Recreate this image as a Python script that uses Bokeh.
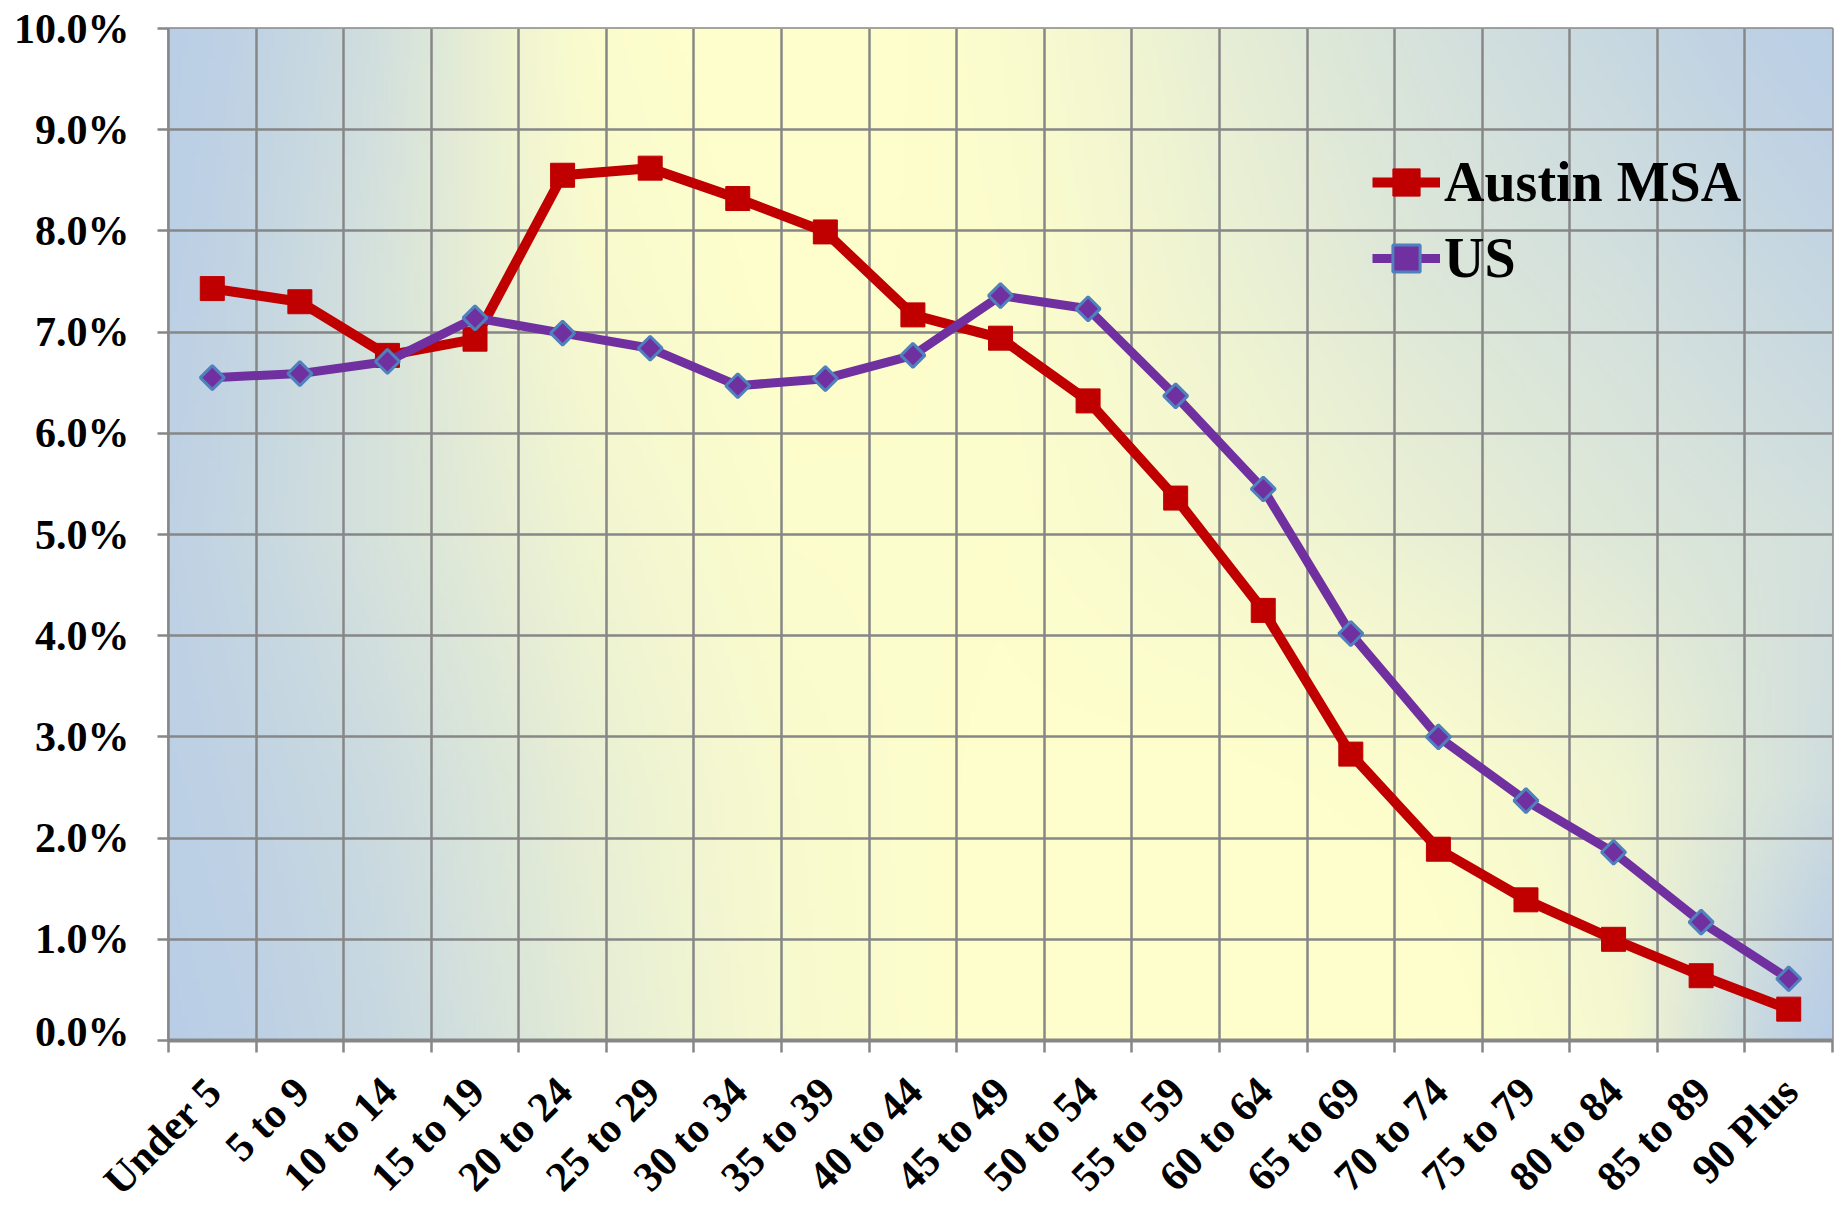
import math
import numpy as np
from bokeh.plotting import figure
from bokeh.models import (Range1d, FixedTicker, PrintfTickFormatter, Legend, LegendItem,
                          ColumnDataSource)
from bokeh.core.properties import value
from bokeh.embed import file_html
from bokeh.resources import INLINE

categories = ["Under 5", "5 to 9", "10 to 14", "15 to 19", "20 to 24", "25 to 29",
              "30 to 34", "35 to 39", "40 to 44", "45 to 49", "50 to 54", "55 to 59",
              "60 to 64", "65 to 69", "70 to 74", "75 to 79", "80 to 84", "85 to 89", "90 Plus"]
austin_msa = [7.43, 7.30, 6.77, 6.93, 8.55, 8.62, 8.32, 7.99, 7.17, 6.94, 6.32, 5.36,
              4.25, 2.83, 1.89, 1.39, 1.00, 0.64, 0.31]
us = [6.55, 6.59, 6.71, 7.14, 6.99, 6.84, 6.47, 6.54, 6.77, 7.36, 7.23, 6.37,
      5.45, 4.02, 3.00, 2.37, 1.86, 1.17, 0.61]
y_ticks = [0, 1, 2, 3, 4, 5, 6, 7, 8, 9, 10]

n = len(categories)
xs = [i + 0.5 for i in range(n)]
boundaries = list(range(n + 1))

FONT = "Liberation Serif"
GRID = "#878787"

W_FIG = 1840
LEFT, RIGHT, TOP = 168, 8, 28
MAIN_H = 1054
LAB_H = 1211 - MAIN_H

p = figure(width=W_FIG, height=MAIN_H, output_backend="svg", toolbar_location=None,
           x_range=Range1d(0, n), y_range=Range1d(0, 10),
           min_border_left=LEFT, min_border_right=RIGHT, min_border_top=TOP, min_border_bottom=14)
p.background_fill_color = "white"
p.border_fill_color = "white"
p.outline_line_color = GRID
p.outline_line_width = 2.5

# background gradient of the plot area (yellow weight control grid, top row first)
wgrid = np.array([
    [0.10, 0.40, 0.85, 1.00, 0.85, 0.62, 0.45, 0.30, 0.12],
    [0.15, 0.45, 0.80, 0.95, 0.88, 0.68, 0.52, 0.42, 0.28],
    [0.20, 0.45, 0.70, 0.88, 0.90, 0.78, 0.64, 0.52, 0.42],
    [0.15, 0.35, 0.62, 0.82, 0.94, 0.95, 0.88, 0.70, 0.38],
    [0.08, 0.30, 0.58, 0.80, 0.95, 1.00, 1.00, 0.75, 0.08],
])[::-1]  # bottom row first
H, W = 200, 380
gu = np.linspace(0, 1, wgrid.shape[1])
gv = np.linspace(0, 1, wgrid.shape[0])
uu = np.linspace(0, 1, W)
vv = np.linspace(0, 1, H)
tmp = np.array([np.interp(uu, gu, row) for row in wgrid])
wimg = np.array([np.interp(vv, gv, tmp[:, j]) for j in range(W)]).T
wimg = wimg * wimg * (3 - 2 * wimg)
blue = np.array([184, 205, 231], dtype=float)
yellow = np.array([255, 255, 204], dtype=float)
rgb = blue[None, None, :] * (1 - wimg[..., None]) + yellow[None, None, :] * wimg[..., None]
img = np.empty((H, W), dtype=np.uint32)
view = img.view(dtype=np.uint8).reshape((H, W, 4))
view[..., 0] = rgb[..., 0].astype(np.uint8)
view[..., 1] = rgb[..., 1].astype(np.uint8)
view[..., 2] = rgb[..., 2].astype(np.uint8)
view[..., 3] = 255
bg = p.image_rgba(image=[img], x=0, y=0, dw=n, dh=10)
bg.level = "image"

# grids
p.xgrid.ticker = FixedTicker(ticks=boundaries)
p.ygrid.ticker = FixedTicker(ticks=y_ticks)
for g in (p.xgrid[0], p.ygrid[0]):
    g.grid_line_color = GRID
    g.grid_line_width = 2.5

# x axis: tick marks at category boundaries (labels in the strip below)
xa = p.xaxis[0]
xa.ticker = FixedTicker(ticks=[], minor_ticks=boundaries)
xa.major_tick_out = 0
xa.major_tick_in = 0
xa.minor_tick_out = 12
xa.minor_tick_in = 0
xa.minor_tick_line_color = GRID
xa.minor_tick_line_width = 2.5
xa.axis_line_color = GRID
xa.axis_line_width = 4
xa.major_label_standoff = 0

ya = p.yaxis[0]
ya.ticker = FixedTicker(ticks=y_ticks)
ya.formatter = PrintfTickFormatter(format="%.1f%%")
ya.major_tick_out = 11
ya.major_tick_in = 0
ya.minor_tick_line_color = None
ya.major_tick_line_color = GRID
ya.major_tick_line_width = 2.5
ya.axis_line_color = GRID
ya.axis_line_width = 2.5
ya.major_label_standoff = 28
ya.major_label_text_font = FONT
ya.major_label_text_font_style = "bold"
ya.major_label_text_font_size = "42px"
ya.major_label_text_color = "black"

RED = "#C00000"
PURPLE = "#7030A0"
EDGE = "#4F81BD"

l1 = p.line(xs, austin_msa, line_color=RED, line_width=10, line_join="round")
m1 = p.scatter(xs, austin_msa, marker="square", size=24, fill_color=RED, line_color=RED)
l2 = p.line(xs, us, line_color=PURPLE, line_width=9, line_join="round")
m2 = p.scatter(xs, us, marker="square", angle=math.pi / 4, size=17,
               fill_color=PURPLE, line_color=EDGE, line_width=3)

legend = Legend(items=[LegendItem(label="Austin MSA", renderers=[l1, m1]),
                       LegendItem(label="US", renderers=[l2, m2])],
                location=(1204, 744))
legend.background_fill_alpha = 0
legend.border_line_color = None
legend.padding = 0
legend.margin = 0
legend.spacing = 0
legend.glyph_width = 68
legend.glyph_height = 76
legend.label_height = 76
legend.label_standoff = 4
legend.label_text_font = FONT
legend.label_text_font_style = "bold"
legend.label_text_font_size = "56px"
legend.label_text_color = "black"
p.add_layout(legend)

# strip below the chart holding the rotated category labels (same x scale as the chart)
px_per_unit = (W_FIG - LEFT - RIGHT) / n
q = figure(width=W_FIG, height=LAB_H, output_backend="svg", toolbar_location=None,
           x_axis_location=None, y_axis_location=None,
           x_range=Range1d(-LEFT / px_per_unit, n + RIGHT / px_per_unit), y_range=Range1d(0, 1),
           min_border_left=0, min_border_right=0, min_border_top=0, min_border_bottom=0)
q.grid.visible = False
q.outline_line_color = None
q.background_fill_color = "white"
q.border_fill_color = "white"
cat_src = ColumnDataSource(dict(x=xs, y=[1] * n, text=categories))
q.text(x="x", y="y", text="text", source=cat_src, angle=math.pi / 4,
       x_offset=2, y_offset=30, text_align="right", text_baseline="middle",
       text_font=value(FONT), text_font_style="bold", text_font_size="42px",
       text_color="black")

open("out.html", "w").write(file_html([p, q], INLINE))
